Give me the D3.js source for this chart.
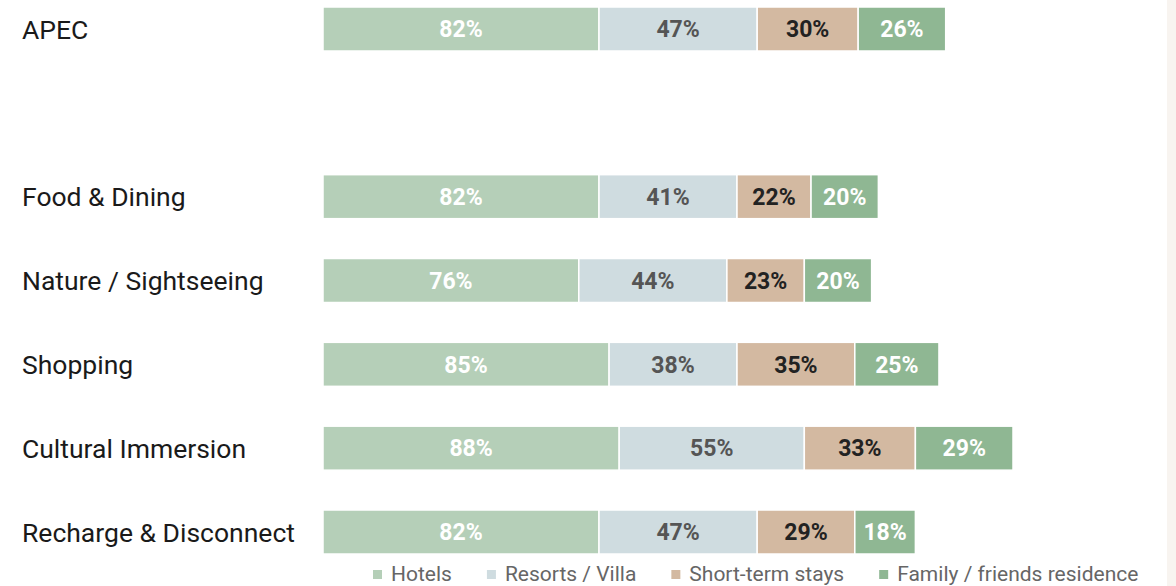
<!DOCTYPE html>
<html>
<head>
<meta charset="utf-8">
<script src="https://cdn.jsdelivr.net/npm/d3@7"></script>
<style>
  body { margin: 0; background: #fff; }
  svg { display: block; }
  .cat { font-family: Roboto, "Liberation Sans", sans-serif; font-size: 26.5px; fill: #1a1a1a; }
  .val { font-family: Roboto, "Liberation Sans", sans-serif; font-weight: 700; font-size: 23px; }
  .leg { font-family: Roboto, "Liberation Sans", sans-serif; font-size: 21px; fill: #666; }
</style>
</head>
<body>
<div id="chart"></div>
<script>
// categories (blank slot between APEC and the rest)
var categories = ["APEC", "", "Food & Dining", "Nature / Sightseeing", "Shopping", "Cultural Immersion", "Recharge & Disconnect"];
var seriesNames = ["Hotels", "Resorts / Villa", "Short-term stays", "Family / friends residence"];

var hotels   = [82, null, 82, 76, 85, 88, 82];
var resorts  = [47, null, 41, 44, 38, 55, 47];
var shortTerm = [30, null, 22, 23, 35, 33, 29];
var family   = [26, null, 20, 20, 25, 29, 18];

var colors = ["#b5cfb8", "#cfdce0", "#d3b9a1", "#8fb793"];
var labelColors = ["#ffffff", "#555555", "#222222", "#ffffff"];

var W = 1176, H = 586;

var svg = d3.select("#chart").append("svg")
    .attr("width", W)
    .attr("height", H);

// light strip on the right edge
svg.append("rect")
    .attr("x", 1167).attr("y", 0)
    .attr("width", W - 1167).attr("height", H)
    .attr("fill", "#f8f4f0");

var rows = categories.map(function(c, i) {
    return {cat: c, vals: [hotels[i], resorts[i], shortTerm[i], family[i]]};
}).filter(function(d) { return d.cat !== ""; });

var x = d3.scaleLinear().domain([0, 205]).range([323, 1013]);
var y = d3.scalePoint().domain(categories).range([29, 532]);
var barH = 44;

rows.forEach(function(r) {
    var g = svg.append("g");
    var cum = 0;
    var segs = r.vals.map(function(v, k) {
        var s = {k: k, v: v, x0: cum, x1: cum + v};
        cum += v;
        return s;
    });

    g.selectAll("rect")
        .data(segs)
        .enter()
        .append("rect")
        .attr("x", function(d) { return x(d.x0); })
        .attr("y", y(r.cat) - barH / 2)
        .attr("width", function(d) { return x(d.x1) - x(d.x0); })
        .attr("height", barH)
        .attr("fill", function(d) { return colors[d.k]; })
        .attr("stroke", "#fff")
        .attr("stroke-width", 1.5);

    g.selectAll("text")
        .data(segs)
        .enter()
        .append("text")
        .attr("class", "val")
        .attr("x", function(d) { return (x(d.x0) + x(d.x1)) / 2; })
        .attr("y", y(r.cat))
        .attr("dy", "0.36em")
        .attr("text-anchor", "middle")
        .attr("fill", function(d) { return labelColors[d.k]; })
        .text(function(d) { return d.v + "%"; });

    svg.append("text")
        .attr("class", "cat")
        .attr("x", 22)
        .attr("y", y(r.cat))
        .attr("dy", "0.36em")
        .text(r.cat);
});

// legend
var legend = svg.append("g");
var lx = 373;
seriesNames.forEach(function(name, k) {
    legend.append("rect")
        .attr("x", lx).attr("y", 570)
        .attr("width", 9).attr("height", 9)
        .attr("fill", colors[k]);
    var t = legend.append("text")
        .attr("class", "leg")
        .attr("x", lx + 18)
        .attr("y", 581)
        .text(name);
    lx = lx + 18 + t.node().getComputedTextLength() + 35;
});
</script>
</body>
</html>
